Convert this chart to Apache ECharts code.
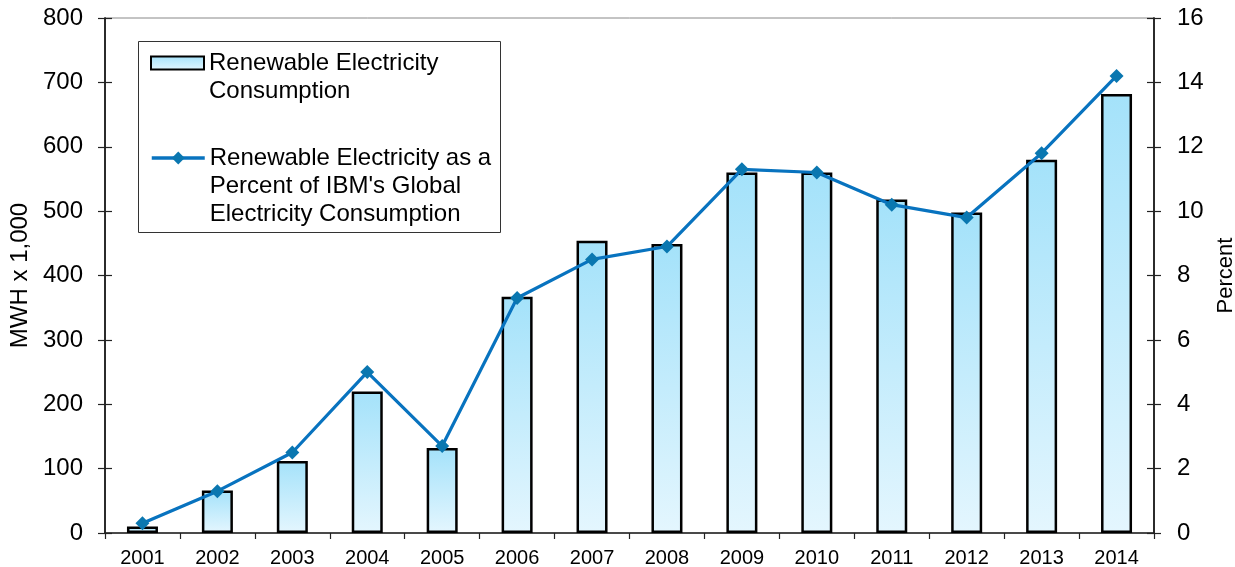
<!DOCTYPE html>
<html>
<head>
<meta charset="utf-8">
<script src="https://cdn.jsdelivr.net/npm/echarts@6/dist/echarts.min.js"></script>
<style>
  html, body { margin: 0; padding: 0; background: #fff; }
  #main { width: 1235px; height: 567px; }
</style>
</head>
<body>
<div id="main"></div>
<script>
var years = ['2001', '2002', '2003', '2004', '2005', '2006', '2007', '2008', '2009', '2010', '2011', '2012', '2013', '2014'];
// MWH x 1,000
var consumption = [10, 66, 112, 220, 132, 367, 454, 449, 560, 560, 518, 498, 580, 682];
// percent of global electricity
var percent = [0.3, 1.3, 2.5, 5.0, 2.7, 7.3, 8.5, 8.9, 11.3, 11.2, 10.2, 9.8, 11.8, 14.2];

var barName = 'Renewable Electricity Consumption';
var lineName = "Renewable Electricity as a Percent of IBM's Global Electricity Consumption";

var myChart = echarts.init(document.getElementById('main'));

var font = 'Liberation Sans, Arial, sans-serif';

function yAxisBase(min, max, interval) {
    return {
        type: 'value',
        min: min,
        max: max,
        interval: interval,
        splitLine: {show: false},
        axisLine: {show: true, lineStyle: {color: '#222', width: 1.5}}
    };
}

var left1 = yAxisBase(0, 800, 100);
left1.position = 'left';
left1.name = 'MWH x 1,000';
left1.nameLocation = 'middle';
left1.nameGap = 67;
left1.nameTextStyle = {fontFamily: font, fontSize: 24, color: '#000'};
left1.axisTick = {show: true, length: 7, lineStyle: {color: '#222', width: 1.2}};
left1.axisLabel = {fontFamily: font, fontSize: 24, color: '#000', margin: 22};

var right1 = yAxisBase(0, 16, 2);
right1.position = 'right';
right1.name = 'Percent';
right1.nameLocation = 'middle';
right1.nameGap = 60;
right1.nameTextStyle = {fontFamily: font, fontSize: 22, color: '#000'};
right1.axisTick = {show: true, length: 7, lineStyle: {color: '#222', width: 1.2}};
right1.axisLabel = {fontFamily: font, fontSize: 24, color: '#000', margin: 23};

// inner halves of the crossing ticks
var left2 = yAxisBase(0, 800, 100);
left2.position = 'left';
left2.axisTick = {show: true, inside: true, length: 7, lineStyle: {color: '#222', width: 1.2}};
left2.axisLabel = {show: false};

var right2 = yAxisBase(0, 16, 2);
right2.position = 'right';
right2.axisTick = {show: true, inside: true, length: 7, lineStyle: {color: '#222', width: 1.2}};
right2.axisLabel = {show: false};

var legendText = {fontFamily: font, fontSize: 24, color: '#000'};

var option = {
    animation: false,
    backgroundColor: '#fff',
    grid: {
        left: 105,
        right: 81,
        top: 18,
        bottom: 34,
        outerBoundsMode: 'none',
        show: true,
        borderColor: '#888',
        borderWidth: 1
    },
    graphic: [{
        type: 'rect',
        left: 138,
        top: 41,
        shape: {width: 362, height: 191},
        style: {fill: '#fff', stroke: '#333', lineWidth: 1},
        z: 0
    }],
    legend: [
        {
            orient: 'vertical',
            left: 150,
            top: 21,
            padding: 0,
            itemWidth: 53,
            itemHeight: 13,
            selectedMode: false,
            textStyle: Object.assign({lineHeight: 28}, legendText),
            formatter: function () {
                return '\nRenewable Electricity\nConsumption';
            },
            data: [{name: barName, icon: 'rect'}]
        },
        {
            orient: 'vertical',
            left: 150,
            top: 88,
            padding: 0,
            itemWidth: 53,
            itemHeight: 16,
            selectedMode: false,
            lineStyle: {width: 3.5},
            textStyle: Object.assign({lineHeight: 28}, legendText),
            formatter: function () {
                return "\n\nRenewable Electricity as a\nPercent of IBM's Global\nElectricity Consumption";
            },
            data: [{name: lineName}]
        }
    ],
    xAxis: {
        type: 'category',
        data: years,
        axisLine: {show: true, lineStyle: {color: '#222', width: 1.5}},
        axisTick: {show: true, length: 6, lineStyle: {color: '#222', width: 1.2}},
        axisLabel: {fontFamily: font, fontSize: 20, color: '#000', margin: 15}
    },
    yAxis: [left1, right1, left2, right2],
    series: [
        {
            name: barName,
            type: 'bar',
            yAxisIndex: 0,
            data: consumption,
            barWidth: 31,
            itemStyle: {
                color: new echarts.graphic.LinearGradient(0, 0, 0, 1, [
                    {offset: 0, color: '#a4e2fa'},
                    {offset: 1, color: '#e4f6fe'}
                ]),
                borderColor: '#000',
                borderWidth: 2.5
            }
        },
        {
            name: lineName,
            type: 'line',
            yAxisIndex: 1,
            data: percent,
            symbol: 'diamond',
            symbolSize: 14,
            lineStyle: {color: '#0873bf', width: 3.2},
            itemStyle: {color: '#0a77b0'}
        }
    ]
};
myChart.setOption(option);
</script>
</body>
</html>
